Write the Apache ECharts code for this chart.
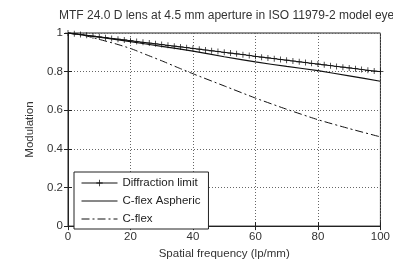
<!DOCTYPE html>
<html><head><meta charset="utf-8">
<script src="https://cdn.jsdelivr.net/npm/echarts@6/dist/echarts.min.js"></script>
<style>html,body{margin:0;padding:0;background:#fff}#c{width:393px;height:265px}</style>
</head><body><div id="c"></div>
<script>
const titleText = 'MTF 24.0 D lens at 4.5 mm aperture in ISO 11979-2 model eye';
const xName = 'Spatial frequency (lp/mm)';
const yName = 'Modulation';
const seriesNames = ['Diffraction limit', 'C-flex Aspheric', 'C-flex'];
const xTicks = [0, 20, 40, 60, 80, 100];
const yTicks = [0, 0.2, 0.4, 0.6, 0.8, 1];

// Diffraction limit, sampled every 2 lp/mm
const diffFreq = [0,2,4,6,8,10,12,14,16,18,20,22,24,26,28,30,32,34,36,38,40,42,44,46,48,50,52,54,56,58,60,62,64,66,68,70,72,74,76,78,80,82,84,86,88,90,92,94,96,98,100];
const diffMtf = [1.000,0.996,0.992,0.988,0.984,0.980,0.976,0.972,0.968,0.964,0.960,0.956,0.952,0.948,0.944,0.940,0.936,0.932,0.928,0.924,0.920,0.916,0.912,0.908,0.904,0.900,0.896,0.892,0.888,0.884,0.879,0.875,0.871,0.867,0.863,0.859,0.855,0.851,0.847,0.843,0.839,0.835,0.831,0.827,0.823,0.819,0.815,0.811,0.807,0.803,0.800];

const asphFreq = [0,10,20,30,40,50,60,70,80,90,100];
const asphMtf = [1.000,0.978,0.955,0.931,0.906,0.877,0.850,0.827,0.805,0.778,0.750];

const cflexFreq = [0,5,10,15,20,25,30,35,40,50,60,70,80,90,100];
const cflexMtf = [1.000,0.988,0.967,0.945,0.920,0.888,0.856,0.822,0.789,0.726,0.663,0.605,0.551,0.505,0.462];

const pairs = (xs, ys) => xs.map((x, i) => [x, ys[i]]);
const plusPath = 'path://M0,4.4H10V5.6H0Z M4.4,0H5.6V10H4.4Z';
const font = 'Liberation Sans, Arial, sans-serif';
const txt = '#333';
const hiddenSymbol = {color: 'rgba(0,0,0,0)', borderWidth: 0, borderColor: 'rgba(0,0,0,0)'};

const chart = echarts.init(document.getElementById('c'), null, {renderer: 'canvas'});
const axisCommonX = {
  type: 'value', min: 0, max: 100, interval: 20,
  axisLine: {show: true, lineStyle: {color: '#222', width: 1}},
  axisTick: {show: true, inside: true, length: 4, lineStyle: {color: '#222'}},
};
const axisCommonY = {
  type: 'value', min: 0, max: 1, interval: 0.2,
  axisLine: {show: true, lineStyle: {color: '#222', width: 1}},
  axisTick: {show: true, inside: true, length: 4, lineStyle: {color: '#222'}},
};
chart.setOption({
  animation: false,
  backgroundColor: '#fff',
  title: {
    text: titleText, left: 54, top: 5,
    textStyle: {fontFamily: font, fontSize: 12, fontWeight: 'normal', color: txt}
  },
  grid: {left: 68, right: 8, top: 33, bottom: 33, show: true, borderColor: '#222', borderWidth: 1, backgroundColor: 'transparent'},
  legend: {
    orient: 'vertical', left: 74, top: 172,
    itemWidth: 36, itemHeight: 8, itemGap: 6,
    padding: [5, 8, 4, 7],
    backgroundColor: '#fff', borderColor: '#222', borderWidth: 1, borderRadius: 0,
    lineStyle: {width: 1},
    textStyle: {fontFamily: font, fontSize: 11.5, color: '#222'},
    data: [
      {name: seriesNames[0]},
      {name: seriesNames[1], itemStyle: hiddenSymbol},
      {name: seriesNames[2], itemStyle: hiddenSymbol}
    ]
  },
  xAxis: [
    Object.assign({}, axisCommonX, {
      position: 'bottom',
      name: xName, nameLocation: 'middle', nameGap: 20,
      nameTextStyle: {fontFamily: font, fontSize: 11.5, color: txt},
      axisLabel: {margin: 5, fontFamily: font, fontSize: 11.5, color: txt, formatter: v => xTicks.includes(v) ? String(v) : ''},
      splitLine: {show: true, lineStyle: {color: '#666', type: [1, 2], width: 1}}
    }),
    Object.assign({}, axisCommonX, {position: 'top', axisLabel: {show: false}, splitLine: {show: false}})
  ],
  yAxis: [
    Object.assign({}, axisCommonY, {
      position: 'left',
      name: yName, nameLocation: 'middle', nameGap: 27,
      nameTextStyle: {fontFamily: font, fontSize: 11.5, color: txt},
      axisLabel: {margin: 5, fontFamily: font, fontSize: 11.5, color: txt,
        formatter: v => { const t = yTicks.find(k => Math.abs(k - v) < 1e-9); return t === undefined ? '' : String(+t.toFixed(1)); }},
      splitLine: {show: true, lineStyle: {color: '#666', type: [1, 2], width: 1}}
    }),
    Object.assign({}, axisCommonY, {position: 'right', axisLabel: {show: false}, splitLine: {show: false}})
  ],
  series: [
    {
      name: seriesNames[0], type: 'line', data: pairs(diffFreq, diffMtf),
      symbol: plusPath, symbolSize: 6, showSymbol: true,
      lineStyle: {color: '#111', width: 1}, itemStyle: {color: '#111'}
    },
    {
      name: seriesNames[1], type: 'line', data: pairs(asphFreq, asphMtf),
      symbol: 'none', smooth: 0.2,
      lineStyle: {color: '#111', width: 1.2}, itemStyle: {color: '#111'}
    },
    {
      name: seriesNames[2], type: 'line', data: pairs(cflexFreq, cflexMtf),
      symbol: 'none', smooth: 0.2,
      lineStyle: {color: '#111', width: 1, type: [8, 3, 2, 3]}, itemStyle: {color: '#111'}
    }
  ]
});
</script></body></html>
